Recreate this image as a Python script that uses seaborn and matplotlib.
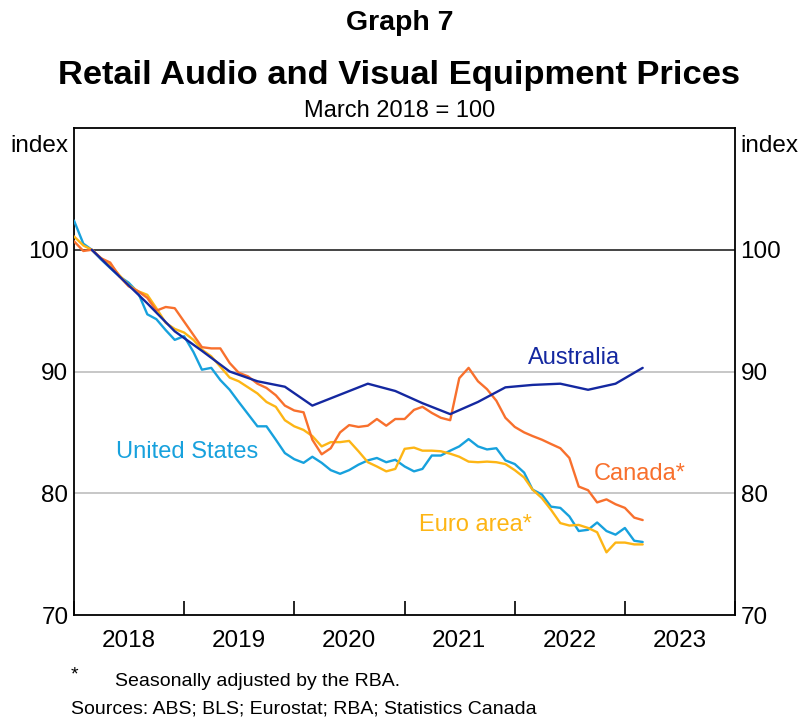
import pandas as pd
import matplotlib
matplotlib.use('Agg')
import matplotlib.pyplot as plt
import matplotlib.dates as mdates
import seaborn as sns

# --- data (March 2018 = 100) ---
monthly_dates = pd.date_range('2018-01-01', periods=63, freq='MS')
quarterly_dates = pd.date_range('2018-03-01', periods=21, freq='3MS')

united_states = [102.4, 100.5, 100.0, 99.2, 98.5, 97.8, 97.3, 96.5, 94.7, 94.3,
                 93.4, 92.6, 92.9, 91.6, 90.15, 90.3, 89.3, 88.5, 87.5, 86.5,
                 85.5, 85.5, 84.4, 83.3, 82.8, 82.5, 83.0, 82.5, 81.9, 81.6,
                 81.9, 82.35, 82.7, 82.9, 82.55, 82.75, 82.2, 81.8, 82.0, 83.1,
                 83.1, 83.5, 83.85, 84.45, 83.85, 83.6, 83.7, 82.7, 82.4, 81.7,
                 80.3, 79.9, 78.9, 78.8, 78.1, 76.9, 77.0, 77.6, 76.9, 76.6,
                 77.15, 76.1, 76.0]
euro_area = [101.1, 100.35, 100.0, 99.3, 98.8, 97.9, 97.1, 96.6, 96.3, 95.2,
             94.0, 93.5, 93.2, 92.6, 91.8, 91.25, 90.4, 89.5, 89.2, 88.7,
             88.2, 87.5, 87.1, 86.0, 85.5, 85.2, 84.7, 83.85, 84.2, 84.2,
             84.3, 83.45, 82.55, 82.2, 81.8, 82.0, 83.65, 83.75, 83.5, 83.5,
             83.45, 83.25, 83.0, 82.6, 82.55, 82.6, 82.55, 82.4, 81.9, 81.3,
             80.3, 79.6, 78.65, 77.55, 77.35, 77.4, 77.15, 76.8, 75.15, 75.95,
             75.95, 75.8, 75.8]
canada = [100.7, 99.9, 100.0, 99.3, 98.95, 97.8, 97.0, 96.6, 96.05, 95.0,
          95.3, 95.2, 94.1, 93.0, 92.0, 91.9, 91.9, 90.7, 89.9, 89.6,
          89.0, 88.65, 88.05, 87.2, 86.8, 86.65, 84.4, 83.2, 83.7, 85.0,
          85.6, 85.45, 85.55, 86.1, 85.55, 86.1, 86.1, 86.85, 87.1, 86.6,
          86.2, 86.0, 89.45, 90.3, 89.2, 88.55, 87.6, 86.2, 85.45, 85.0,
          84.7, 84.4, 84.05, 83.7, 82.9, 80.55, 80.25, 79.25, 79.5, 79.1,
          78.8, 78.0, 77.8]
australia = [100.0, 97.8, 95.6, 93.3, 91.7, 90.0, 89.2, 88.75, 87.2, 88.1,
             89.0, 88.4, 87.4, 86.5, 87.5, 88.7, 88.9, 89.0, 88.5, 89.0, 90.3]

year_labels = ['2018', '2019', '2020', '2021', '2022', '2023']
y_ticks = [70, 80, 90, 100]

COLORS = {
    'Australia': '#1428A0',
    'United States': '#17A1DD',
    'Canada*': '#F8702D',
    'Euro area*': '#FDB515',
}

# --- long table for seaborn ---
frames = [
    pd.DataFrame({'date': monthly_dates, 'value': united_states, 'series': 'United States'}),
    pd.DataFrame({'date': monthly_dates, 'value': euro_area, 'series': 'Euro area*'}),
    pd.DataFrame({'date': monthly_dates, 'value': canada, 'series': 'Canada*'}),
    pd.DataFrame({'date': quarterly_dates, 'value': australia, 'series': 'Australia'}),
]
df = pd.concat(frames, ignore_index=True)

sns.set_theme(style='white')
plt.rcParams['font.family'] = ['Liberation Sans', 'DejaVu Sans']
plt.rcParams['text.color'] = 'black'
plt.rcParams['xtick.color'] = 'black'
plt.rcParams['ytick.color'] = 'black'
plt.rcParams['axes.labelcolor'] = 'black'

fig = plt.figure(figsize=(7.99, 7.2), dpi=100)
ax = fig.add_axes([0.0926, 0.1458, 0.8273, 0.6764])

# gridlines
for v in [80, 90]:
    ax.axhline(v, color='#BDBDBD', lw=1.2, zorder=1)
ax.axhline(100, color='#444444', lw=1.4, zorder=1)

sns.lineplot(data=df, x='date', y='value', hue='series', palette=COLORS,
             hue_order=['United States', 'Euro area*', 'Canada*', 'Australia'],
             linewidth=1.7, legend=False, sort=False, ax=ax, zorder=3)

ax.set_xlim(pd.Timestamp('2018-01-01'), pd.Timestamp('2024-01-01'))
ax.set_ylim(70, 110)
ax.set_xlabel('')
ax.set_ylabel('')

# x axis: ticks at year boundaries, labels mid-year
ax.xaxis.set_major_locator(mdates.YearLocator())
ax.xaxis.set_major_formatter(plt.NullFormatter())
ax.set_xticks([pd.Timestamp(f'{y}-07-01') for y in year_labels], minor=True)
ax.set_xticklabels(year_labels, minor=True)
ax.tick_params(axis='x', which='major', direction='in', length=10, width=1.2,
               color='black', bottom=True)
ax.tick_params(axis='x', which='minor', length=0, labelsize=17.5, pad=11,
               bottom=True, labelcolor='black')

# y axis on both sides
ax.set_yticks(y_ticks)
ax.set_yticklabels([str(v) for v in y_ticks])
ax.tick_params(axis='y', which='major', length=0, labelsize=17.5, pad=4,
               left=True, right=True, labelleft=True, labelright=True,
               labelcolor='black')

for s in ax.spines.values():
    s.set_color('black')
    s.set_linewidth(1.3)
    s.set_visible(True)

ax.text(-0.008, 0.985, 'index', transform=ax.transAxes, ha='right', va='top',
        fontsize=17.5)
ax.text(1.008, 0.985, 'index', transform=ax.transAxes, ha='left', va='top',
        fontsize=17.5)

# series labels
ax.text(pd.Timestamp('2019-01-10'), 83.35, 'United States', color=COLORS['United States'],
        fontsize=17, ha='center', va='center')
ax.text(pd.Timestamp('2022-07-15'), 91.1, 'Australia', color=COLORS['Australia'],
        fontsize=17, ha='center', va='center')
ax.text(pd.Timestamp('2023-02-20'), 81.55, 'Canada*', color=COLORS['Canada*'],
        fontsize=17, ha='center', va='center')
ax.text(pd.Timestamp('2021-08-25'), 77.4, 'Euro area*', color=COLORS['Euro area*'],
        fontsize=17, ha='center', va='center')

# titles
fig.text(0.5, 0.968, 'Graph 7', ha='center', va='center', fontsize=20.5, fontweight='bold')
fig.text(0.5, 0.895, 'Retail Audio and Visual Equipment Prices', ha='center',
         va='center', fontsize=24.8, fontweight='bold')
fig.text(0.5, 0.846, 'March 2018 = 100', ha='center', va='center', fontsize=17)

# footnotes
fig.text(0.089, 0.062, '*', ha='left', va='center', fontsize=14)
fig.text(0.144, 0.054, 'Seasonally adjusted by the RBA.', ha='left', va='center', fontsize=14)
fig.text(0.089, 0.015, 'Sources: ABS; BLS; Eurostat; RBA; Statistics Canada', ha='left',
         va='center', fontsize=14)

fig.savefig('out.png', dpi=100)
